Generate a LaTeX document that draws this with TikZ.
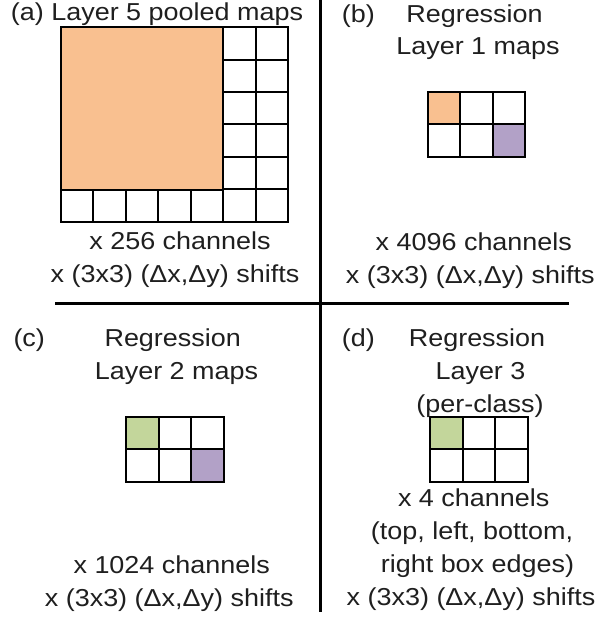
\documentclass[tikz,border=0pt]{standalone}
\usepackage{fontspec}
\setmainfont{Liberation Sans}[FakeStretch=1.1]
\definecolor{orangefill}{RGB}{249,192,144}
\definecolor{purplefill}{RGB}{178,161,199}
\definecolor{greenfill}{RGB}{195,214,155}
\begin{document}
\begin{tikzpicture}[x=1pt,y=-1pt,
  lbl/.style={inner sep=0pt, font=\fontsize{24.5pt}{33pt}\selectfont, text=black!88},
  cell/.style={draw=black, line width=2pt},
  sepline/.style={line width=3pt, draw=black}]
\useasboundingbox (0,0) rectangle (598,620);

% separators
\coordinate (hl) at (55,303.3);
\coordinate (hr) at (569.3,303.3);
\coordinate (vt) at (320.7,0);
\coordinate (vb) at (320.7,611.7);
\draw[sepline] (hl) -- (hr);
\draw[sepline] (vt) -- (vb);

% (a) grid
\fill[orangefill] (61,27.3) rectangle (223.35,189.3);
\foreach \i in {5,6} \foreach \j in {0,...,5}
  \draw[cell] ({61+\i*32.47},{27.3+\j*32.4}) rectangle ++(32.47,32.4);
\foreach \i in {0,...,4}
  \draw[cell] ({61+\i*32.47},189.7) rectangle ++(32.47,32.4);
\draw[cell] (61,27.3) rectangle (223.35,189.7);

% (b) grid
\fill[orangefill] (427.7,92.3) rectangle ++(32.43,32.2);
\fill[purplefill] ({427.7+2*32.43},124.5) rectangle ++(32.43,32.2);
\foreach \i in {0,1,2} \foreach \j in {0,1}
  \draw[cell] ({427.7+\i*32.43},{92.3+\j*32.2}) rectangle ++(32.43,32.2);

% (c) grid
\fill[greenfill] (126,416.7) rectangle ++(32.6,32.7);
\fill[purplefill] ({126+2*32.6},449.4) rectangle ++(32.6,32.7);
\foreach \i in {0,1,2} \foreach \j in {0,1}
  \draw[cell] ({126+\i*32.6},{416.7+\j*32.7}) rectangle ++(32.6,32.7);

% (d) grid
\fill[greenfill] (430,416.7) rectangle ++(32.67,32.7);
\foreach \i in {0,1,2} \foreach \j in {0,1}
  \draw[cell] ({430+\i*32.67},{416.7+\j*32.7}) rectangle ++(32.67,32.7);

% (a) texts
\node[lbl, anchor=base] (ta) at (157,21) {(a) Layer 5 pooled maps};
\node[lbl, anchor=base] (ca) at (180,249.3) {x 256 channels};
\node[lbl, anchor=base] (sa) at (175,282.7) {x (3x3) (Δx,Δy) shifts};

% (b) texts
\node[lbl, anchor=base west] (pb) at (341.7,22.3) {(b)};
\node[lbl, anchor=base] (rb) at (474.5,22.3) {Regression};
\node[lbl, anchor=base] (lb) at (478,55) {Layer 1 maps};
\node[lbl, anchor=base] (cb) at (473.8,250) {x 4096 channels};
\node[lbl, anchor=base] (sb) at (470.3,283) {x (3x3) (Δx,Δy) shifts};

% (c) texts
\node[lbl, anchor=base west] (pc) at (13.3,346) {(c)};
\node[lbl, anchor=base] (rc) at (172.7,346) {Regression};
\node[lbl, anchor=base] (lc) at (176.5,379) {Layer 2 maps};
\node[lbl, anchor=base] (cc) at (171.7,573) {x 1024 channels};
\node[lbl, anchor=base] (sc) at (169.2,606) {x (3x3) (Δx,Δy) shifts};

% (d) texts
\node[lbl, anchor=base west] (pd) at (341.7,346.5) {(d)};
\node[lbl, anchor=base] (rd) at (477,346.5) {Regression};
\node[lbl, anchor=base] (ld) at (480.5,379.5) {Layer 3};
\node[lbl, anchor=base] (kd) at (480,412) {(per-class)};
\node[lbl, anchor=base] (cd) at (473.7,506.5) {x 4 channels};
\node[lbl, anchor=base] (ed1) at (472,539.5) {(top, left, bottom,};
\node[lbl, anchor=base] (ed2) at (477.5,572.5) {right box edges)};
\node[lbl, anchor=base] (sd) at (471,605.5) {x (3x3) (Δx,Δy) shifts};
\end{tikzpicture}
\end{document}
